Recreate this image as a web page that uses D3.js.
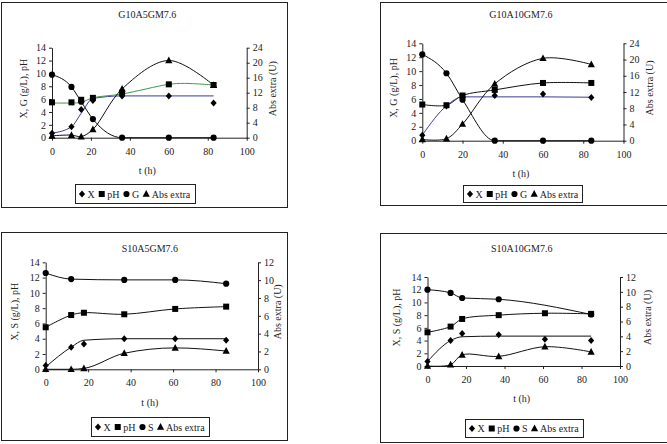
<!DOCTYPE html>
<html>
<head>
<meta charset="utf-8">
<script src="https://cdn.jsdelivr.net/npm/d3@7"></script>
<style>
  body { margin: 0; background: #fff; }
  svg { display: block; }
  text { font-family: "Liberation Serif", "Times New Roman", serif; font-size: 10px; fill: #222; }
</style>
</head>
<body>
<svg id="chart" width="667" height="444"></svg>
<script>
// ---- shared ticks
const xTicks = [0, 20, 40, 60, 80, 100];
const leftTicks = [0, 2, 4, 6, 8, 10, 12, 14];
const rightTicksG = [0, 4, 8, 12, 16, 20, 24];
const rightTicksS = [0, 2, 4, 6, 8, 10, 12];

// ---- G10A5GM7.6
const tG5 = [0, 10, 15, 21, 36, 60, 83];
const xG5 = [0.7, 1.7, 4.4, 5.8, 6.5, 6.5, 5.4];
const phG5 = [5.5, 5.5, 5.9, 6.2, 7.0, 8.3, 8.2];
const gG5 = [9.8, 7.9, 5.6, 2.9, 0, 0, 0];
const absG5 = [0.5, 0.7, 0.3, 2.2, 13.0, 20.6, 14.0];
const tFitXG5 = [0, 10, 15, 21, 36, 60, 83];
const fitXG5 = [0.7, 1.7, 3.8, 6.1, 6.5, 6.5, 6.5];
const tFitPhG5 = [0, 10, 15, 21, 36, 60, 68, 83];
const fitPhG5 = [5.4, 5.4, 5.5, 6.2, 6.8, 8.3, 8.45, 8.2];

// ---- G10A10GM7.6
const tG10 = [0, 12, 20, 36, 60, 84];
const xG10 = [0.8, 5.0, 6.2, 6.5, 6.7, 6.2];
const phG10 = [5.2, 5.1, 6.5, 7.3, 8.3, 8.3];
const gG10 = [12.4, 9.7, 5.9, 0, 0, 0];
const absG10 = [0.3, 0.5, 4.1, 14.0, 20.3, 18.8];
const fitXG10 = [0.8, 5.0, 6.3, 6.3, 6.3, 6.25];

// ---- S10A5GM7.6
const tS5 = [0, 12, 18, 37, 61, 85];
const xS5 = [0.5, 2.9, 3.3, 4.0, 4.0, 3.8];
const fitXS5 = [0.3, 2.9, 3.8, 4.0, 4.0, 4.0];
const phS5 = [5.5, 7.1, 7.4, 7.2, 7.9, 8.2];
const tSubS5 = [0, 12, 37, 61, 85];
const sS5 = [12.6, 11.8, 11.7, 11.7, 11.2];
const absS5 = [0, 0, 0.1, 1.8, 2.4, 2.05];

// ---- S10A10GM7.6
const tS10 = [0, 12, 18, 37, 61, 85];
const xS10 = [0.7, 4.0, 5.1, 4.9, 4.2, 4.0];
const fitXS10 = [0.7, 4.0, 4.6, 4.7, 4.7, 4.7];
const phS10 = [5.3, 6.2, 7.4, 8.0, 8.3, 8.2];
const tSubS10 = [0, 12, 18, 37, 85];
const sS10 = [12.0, 11.5, 10.7, 10.5, 8.1];
const absS10 = [0, 0.17, 1.5, 1.3, 2.6, 1.9];

const BLUE = '#3a3a9a';
const GREEN = '#3d9a45';

const zip = (ts, vs) => ts.map((t, i) => ({ t, v: vs[i] }));

const panels = [
  {
    title: 'G10A5GM7.6', sub: 'G', yLabel: 'X, G (g/L), pH', rightTicks: rightTicksG,
    frame: [1, 2, 286, 205], plot: [52, 246.7, 47.7, 137.7],
    titleY: 18, tY: 174, leftX: 27, rightX: 276, legend: [75, 184, 120, 19],
    lines: [
      { d: zip(tFitXG5, fitXG5), color: BLUE, curve: d3.curveMonotoneX },
      { d: zip(tFitPhG5, fitPhG5), color: GREEN, curve: d3.curveCatmullRom },
      { d: zip(tG5, gG5), color: '#111', curve: d3.curveMonotoneX },
      { d: zip(tG5, absG5), color: '#111', curve: d3.curveCatmullRom, right: true }
    ],
    marks: [
      { d: zip(tG5, xG5), sym: 'diamond' },
      { d: zip(tG5, phG5), sym: 'square' },
      { d: zip(tG5, gG5), sym: 'circle' },
      { d: zip(tG5, absG5), sym: 'triangle', right: true }
    ]
  },
  {
    title: 'G10A10GM7.6', sub: 'G', yLabel: 'X, G (g/L), pH', rightTicks: rightTicksG,
    frame: [380, 2, 300, 203], plot: [422.3, 623.5, 43.3, 140.7],
    titleY: 18, tY: 177, leftX: 397, rightX: 653, legend: [463, 185, 119, 17],
    lines: [
      { d: zip(tG10, phG10), color: '#111', curve: d3.curveCatmullRom },
      { d: zip(tG10, fitXG10), color: BLUE, curve: d3.curveMonotoneX },
      { d: zip(tG10, gG10), color: '#111', curve: d3.curveMonotoneX },
      { d: zip(tG10, absG10), color: '#111', curve: d3.curveCatmullRom, right: true }
    ],
    marks: [
      { d: zip(tG10, xG10), sym: 'diamond' },
      { d: zip(tG10, phG10), sym: 'square' },
      { d: zip(tG10, gG10), sym: 'circle' },
      { d: zip(tG10, absG10), sym: 'triangle', right: true }
    ]
  },
  {
    title: 'S10A5GM7.6', sub: 'S', yLabel: 'X, S (g/L), pH', rightTicks: rightTicksS,
    frame: [1, 232, 286, 208], plot: [45.7, 258, 262.3, 369.3],
    titleY: 252, tY: 406, leftX: 18, rightX: 281, legend: [91, 417, 118, 19],
    lines: [
      { d: zip(tSubS5, sS5), color: '#111', curve: d3.curveMonotoneX },
      { d: zip(tS5, phS5), color: '#111', curve: d3.curveCatmullRom },
      { d: zip(tS5, fitXS5), color: '#111', curve: d3.curveMonotoneX },
      { d: zip(tS5, absS5), color: '#111', curve: d3.curveMonotoneX, right: true }
    ],
    marks: [
      { d: zip(tS5, xS5), sym: 'diamond' },
      { d: zip(tS5, phS5), sym: 'square' },
      { d: zip(tSubS5, sS5), sym: 'circle' },
      { d: zip(tS5, absS5), sym: 'triangle', right: true }
    ]
  },
  {
    title: 'S10A10GM7.6', sub: 'S', yLabel: 'X, S (g/L), pH', rightTicks: rightTicksS,
    frame: [380, 233, 300, 209], plot: [427.5, 620, 277, 366],
    titleY: 252, tY: 402, leftX: 400, rightX: 651, legend: [465, 419, 118, 18],
    lines: [
      { d: zip(tSubS10, sS10), color: '#111', curve: d3.curveMonotoneX },
      { d: zip(tS10, phS10), color: '#111', curve: d3.curveCatmullRom },
      { d: zip(tS10, fitXS10), color: '#111', curve: d3.curveMonotoneX },
      { d: zip(tS10, absS10), color: '#111', curve: d3.curveCatmullRom, right: true }
    ],
    marks: [
      { d: zip(tS10, xS10), sym: 'diamond' },
      { d: zip(tS10, phS10), sym: 'square' },
      { d: zip(tSubS10, sS10), sym: 'circle' },
      { d: zip(tS10, absS10), sym: 'triangle', right: true }
    ]
  }
];

// marker shapes, centred on 0,0
function symPath(sym) {
  if (sym === 'diamond') return 'M0,-3.5L3.1,0L0,3.5L-3.1,0Z';
  if (sym === 'square') return 'M-3,-3H3V3H-3Z';
  if (sym === 'triangle') return 'M0,-3.9L3.6,2.8L-3.6,2.8Z';
  return d3.symbol(d3.symbolCircle, 30)();
}

const svg = d3.select('#chart');

panels.forEach(p => {
  const g = svg.append('g');
  const [x0, x1, yTop, yBot] = p.plot;

  g.append('rect')
    .attr('x', p.frame[0] + 0.5).attr('y', p.frame[1] + 0.5)
    .attr('width', p.frame[2]).attr('height', p.frame[3])
    .attr('fill', 'none').attr('stroke', '#222').attr('stroke-width', 1);

  const x = d3.scaleLinear().domain([0, 100]).range([x0, x1]);
  const yL = d3.scaleLinear().domain([0, 14]).range([yBot, yTop]);
  const yR = d3.scaleLinear().domain([0, d3.max(p.rightTicks)]).range([yBot, yTop]);

  const styleAxis = sel => {
    sel.selectAll('path, line').attr('stroke', '#222');
    sel.selectAll('text').attr('fill', '#222').style('font-size', '10px')
      .style('font-family', '"Liberation Serif", serif');
  };

  g.append('g').attr('transform', `translate(0,${yBot})`)
    .call(d3.axisBottom(x).tickValues(xTicks).tickSize(3).tickSizeOuter(0).tickPadding(7))
    .call(styleAxis);
  g.append('g').attr('transform', `translate(${x0},0)`)
    .call(d3.axisLeft(yL).tickValues(leftTicks).tickSize(3).tickSizeOuter(0).tickPadding(3))
    .call(styleAxis);
  g.append('g').attr('transform', `translate(${x1},0)`)
    .call(d3.axisRight(yR).tickValues(p.rightTicks).tickSize(3).tickSizeOuter(0).tickPadding(3))
    .call(styleAxis);

  // titles
  const cx = (x0 + x1) / 2 - 2;
  g.append('text').attr('x', cx).attr('y', p.titleY).attr('text-anchor', 'middle').text(p.title);
  g.append('text').attr('x', cx).attr('y', p.tY).attr('text-anchor', 'middle').text('t (h)');
  const my = (yTop + yBot) / 2 - 4;
  g.append('text').attr('transform', `translate(${p.leftX},${my}) rotate(-90)`)
    .attr('text-anchor', 'middle').text(p.yLabel);
  g.append('text').attr('transform', `translate(${p.rightX},${my}) rotate(-90)`)
    .attr('text-anchor', 'middle').text('Abs extra (U)');

  // lines
  p.lines.forEach(s => {
    const y = s.right ? yR : yL;
    g.append('path').datum(s.d)
      .attr('fill', 'none').attr('stroke', s.color).attr('stroke-width', 1)
      .attr('d', d3.line().x(d => x(d.t)).y(d => y(d.v)).curve(s.curve));
  });

  // markers
  p.marks.forEach(s => {
    const y = s.right ? yR : yL;
    g.selectAll(null).data(s.d).enter().append('path')
      .attr('transform', d => `translate(${x(d.t)},${y(d.v)})`)
      .attr('d', symPath(s.sym)).attr('fill', '#000');
  });

  // legend
  const [lx, ly, lw, lh] = p.legend;
  const lg = g.append('g').attr('transform', `translate(${lx},${ly})`);
  lg.append('rect').attr('x', 0.5).attr('y', 0.5).attr('width', lw).attr('height', lh)
    .attr('fill', '#fff').attr('stroke', '#222');
  const items = [
    { sym: 'diamond', label: 'X' },
    { sym: 'square', label: 'pH' },
    { sym: 'circle', label: p.sub },
    { sym: 'triangle', label: 'Abs extra' }
  ];
  let ox = 7;
  items.forEach(it => {
    lg.append('path').attr('transform', `translate(${ox},${lh / 2 + 0.5})`)
      .attr('d', symPath(it.sym)).attr('fill', '#000');
    const t = lg.append('text').attr('x', ox + 5.5).attr('y', lh / 2 + 4).text(it.label);
    ox += 5.5 + t.node().getComputedTextLength() + 7;
  });
});
</script>
</body>
</html>
